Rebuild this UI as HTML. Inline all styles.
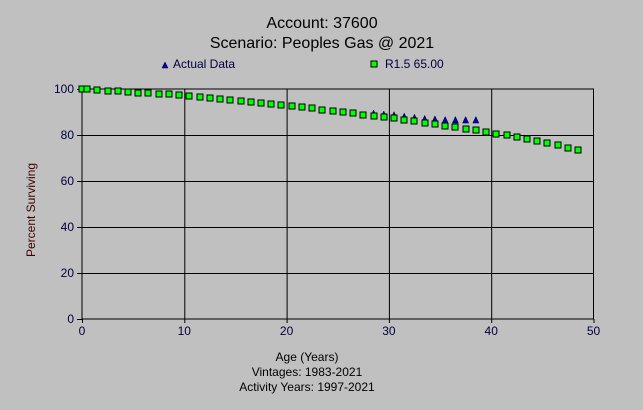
<!DOCTYPE html>
<html><head><style>
html,body{margin:0;padding:0;background:#c0c0c0;}
svg{display:block;font-family:"Liberation Sans",sans-serif;}
</style></head><body>
<svg id="s" width="643" height="410" xmlns="http://www.w3.org/2000/svg">
<rect width="643" height="410" fill="#c0c0c0"/>
<text x="322" y="28" font-size="16" text-anchor="middle" fill="#000">Account: 37600</text>
<text x="322" y="48" font-size="16" text-anchor="middle" fill="#000">Scenario: Peoples Gas @ 2021</text>
<polygon points="162,68 165,62 168,68" fill="#0000c0" stroke="#000" stroke-width="0.5"/>
<text x="173" y="68" font-size="12" fill="#000040">Actual Data</text>
<rect x="371" y="61" width="6" height="6" fill="#00ff00" stroke="#000"/>
<text x="385" y="68" font-size="12" fill="#000040">R1.5 65.00</text>
<g id="grid" stroke="#000" stroke-width="1"></g>
<g id="pts"></g>
<g font-size="12" fill="#000040" id="lab"></g>
<text transform="translate(35,210) rotate(-90)" font-size="12" text-anchor="middle" fill="#400000">Percent Surviving</text>
<text x="307" y="361" font-size="12" text-anchor="middle" fill="#000">Age (Years)</text>
<text x="307" y="376" font-size="12" text-anchor="middle" fill="#000">Vintages: 1983-2021</text>
<text x="307" y="391" font-size="12" text-anchor="middle" fill="#000">Activity Years: 1997-2021</text>
</svg>
<script>
var NS="http://www.w3.org/2000/svg";
function X(a){return 82+a*10.23;}
function Y(v){return 319-v*2.3;}
function el(p,t,a){var e=document.createElementNS(NS,t);for(var k in a)e.setAttribute(k,a[k]);document.getElementById(p).appendChild(e);return e;}
el("grid","rect",{x:82,y:89,width:511.5,height:230,fill:"none"});
for(var i=1;i<5;i++)el("grid","line",{x1:X(i*10)+.5,x2:X(i*10)+.5,y1:89,y2:319});
for(var i=1;i<5;i++)el("grid","line",{x1:82,x2:593.5,y1:Y(i*20)+.5,y2:Y(i*20)+.5});
for(var i=0;i<=5;i++){var t=el("lab","text",{x:X(i*10),y:335,"text-anchor":"middle"});t.textContent=i*10;
 el("grid","line",{x1:X(i*10)+.5,x2:X(i*10)+.5,y1:319,y2:323});}
for(var i=0;i<=5;i++){var t=el("lab","text",{x:74,y:Y(i*20)+4,"text-anchor":"end"});t.textContent=i*20;
 el("grid","line",{x1:77,x2:82,y1:Y(i*20)+.5,y2:Y(i*20)+.5});}
var kp=[[0,100],[10,97.2],[20,93],[30,87.5],[40,81],[45,77],[48.5,73.5]];
function f(a){for(var i=0;i<kp.length-1;i++){if(a<=kp[i+1][0]){var t=(a-kp[i][0])/(kp[i+1][0]-kp[i][0]);return kp[i][1]+t*(kp[i+1][1]-kp[i][1]);}}return 73.5;}
var act=[[28.5,89.3],[29.5,88.9],[30.5,88.6],[31.5,88],[32.5,87.5],[33.5,87],[34.5,86.8],[35.5,86.5],[36.5,86.5],[37.5,86.5],[38.5,86.5]];
for(var i=0;i<act.length;i++){var x=X(act[i][0]),y=Y(act[i][1]);
 el("pts","polygon",{points:(x-3)+","+(y+3)+" "+x+","+(y-3.5)+" "+(x+3)+","+(y+3),fill:"#0000c0",stroke:"#000","stroke-width":0.5});}
var ages=[0];for(var a=0.5;a<=48.6;a+=1)ages.push(a);
for(var i=0;i<ages.length;i++){var x=Math.round(X(ages[i])),y=Math.round(Y(f(ages[i])));
 el("pts","rect",{x:x-3,y:y-3,width:6,height:6,fill:"#00ff00",stroke:"#000","stroke-width":1});}
</script>
</body></html>
